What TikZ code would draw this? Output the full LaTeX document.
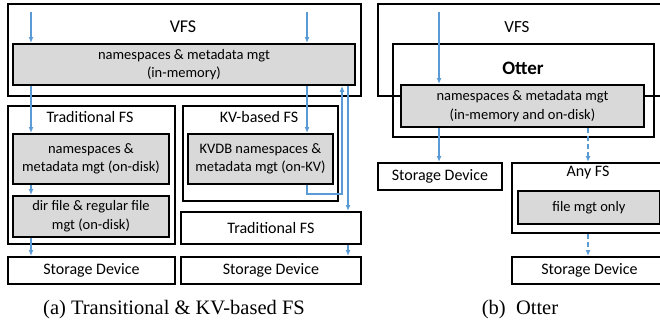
\documentclass[tikz,border=0pt]{standalone}
\usepackage{fontspec}
\setmainfont{Carlito}
\newfontfamily\capfont{Liberation Serif}
\usetikzlibrary{arrows.meta}
\definecolor{arrblue}{RGB}{91,155,213}
\definecolor{mgtgray}{RGB}{217,217,217}

\begin{document}
\begin{tikzpicture}[x=1pt,y=-1pt,
    box/.style={draw, line width=1.9pt, inner sep=0pt, anchor=north west},
    mgt/.style={box, fill=mgtgray, align=center, font=\fontsize{14.5}{18.5}\selectfont},
    lbl/.style={font=\fontsize{16}{19}\selectfont},
    flow/.style={arrblue, line width=1.3pt, -{Latex[length=6pt,width=5pt]}},
    capt/.style={font=\capfont\fontsize{20.5}{24}\selectfont}]
  \path[use as bounding box, clip] (0,0) rectangle (660,327);

  % (a) traditional and KV-based FS
  \node[box, minimum width=353pt, minimum height=92pt] (vfsA) at (7,3) {};
  \node[font=\fontsize{18}{20}\selectfont] (vfsAlbl) at (183,27) {VFS};
  \node[mgt, minimum width=342pt, minimum height=41pt] (nsA) at (12,43) {namespaces \& metadata mgt\\(in-memory)};
  \node[box, minimum width=167pt, minimum height=138pt] (tradA) at (7,105) {};
  \node[lbl] (tradAlbl) at (90,117) {Traditional FS};
  \node[mgt, minimum width=156pt, minimum height=50pt] (nsdisk) at (12,133) {namespaces \&\\metadata mgt (on-disk)};
  \node[mgt, minimum width=156pt, minimum height=41pt] (filedisk) at (12,195) {dir file \& regular file\\mgt (on-disk)};
  \node[box, minimum width=155pt, minimum height=95pt] (kvA) at (182,105) {};
  \node[lbl] (kvAlbl) at (259,117) {KV-based FS};
  \node[mgt, minimum width=145pt, minimum height=50pt] (kvdb) at (187,133) {KVDB namespaces \&\\metadata mgt (on-KV)};
  \node[box, lbl, minimum width=180pt, minimum height=32pt] (tradB) at (180,211) {Traditional FS};
  \node[box, lbl, minimum width=167pt, minimum height=27pt] (sdA) at (7,256) {Storage Device};
  \node[box, lbl, minimum width=180pt, minimum height=27pt] (sdB) at (180,256) {Storage Device};

  \coordinate (inA) at (31,12);
  \coordinate (inB) at (307,12);
  \coordinate (upKV) at (342,194);
  \coordinate (toTrad) at (348,95);
  \draw[flow] (inA) -- (inA |- nsA.north);
  \draw[flow] (inA |- nsA.south) -- (inA |- nsdisk.north);
  \draw[flow] (inA |- nsdisk.south) -- (inA |- filedisk.north);
  \draw[flow] (inA |- filedisk.south) -- (inA |- sdA.north);
  \draw[flow] (inB) -- (inB |- nsA.north);
  \draw[flow] (inB |- nsA.south) -- (inB |- kvdb.north);
  \draw[flow] (inB |- kvdb.south) |- (upKV) -- (upKV |- nsA.south);
  \draw[flow] (toTrad |- nsA.south) -- (toTrad |- tradB.north);
  \draw[flow] (toTrad |- tradB.south) -- (toTrad |- sdB.north);

  % (b) Otter
  \node[box, minimum width=290pt, minimum height=92pt] (vfsR) at (377,3) {};
  \node[font=\fontsize{17}{20}\selectfont] (vfsRlbl) at (517,27) {VFS};
  \node[box, minimum width=261pt, minimum height=93pt] (otter) at (392,43) {};
  \node[font=\bfseries\fontsize{19}{22}\selectfont] (otterlbl) at (523,68) {Otter};
  \node[mgt, minimum width=243pt, minimum height=42pt] (nsR) at (400,84) {namespaces \& metadata mgt\\(in-memory and on-disk)};
  \node[box, lbl, minimum width=124pt, minimum height=27pt] (sdR) at (377,162) {Storage Device};
  \node[box, minimum width=160pt, minimum height=70pt] (anyfs) at (511,162) {};
  \node[lbl] (anyfslbl) at (588,173) {Any FS};
  \node[mgt, minimum width=142pt, minimum height=33pt] (fileonly) at (517,190) {file mgt only};
  \node[box, lbl, minimum width=155pt, minimum height=27pt] (sdR2) at (511,256) {Storage Device};

  \coordinate (inR) at (439,12);
  \coordinate (dashR) at (588,126);
  \draw[flow] (inR) -- (inR |- nsR.north);
  \draw[flow] (inR |- nsR.south) -- (inR |- sdR.north);
  \draw[flow, dash pattern=on 5pt off 3pt] (dashR |- nsR.south) -- (dashR |- anyfs.north);
  \draw[flow, dash pattern=on 5pt off 3pt] (dashR |- anyfs.south) -- (dashR |- sdR2.north);

  \node[capt] (capA) at (174,310) {(a) Transitional \& KV-based FS};
  \node[capt] (capB) at (520,310) {(b)\ \ Otter};
\end{tikzpicture}
\end{document}
